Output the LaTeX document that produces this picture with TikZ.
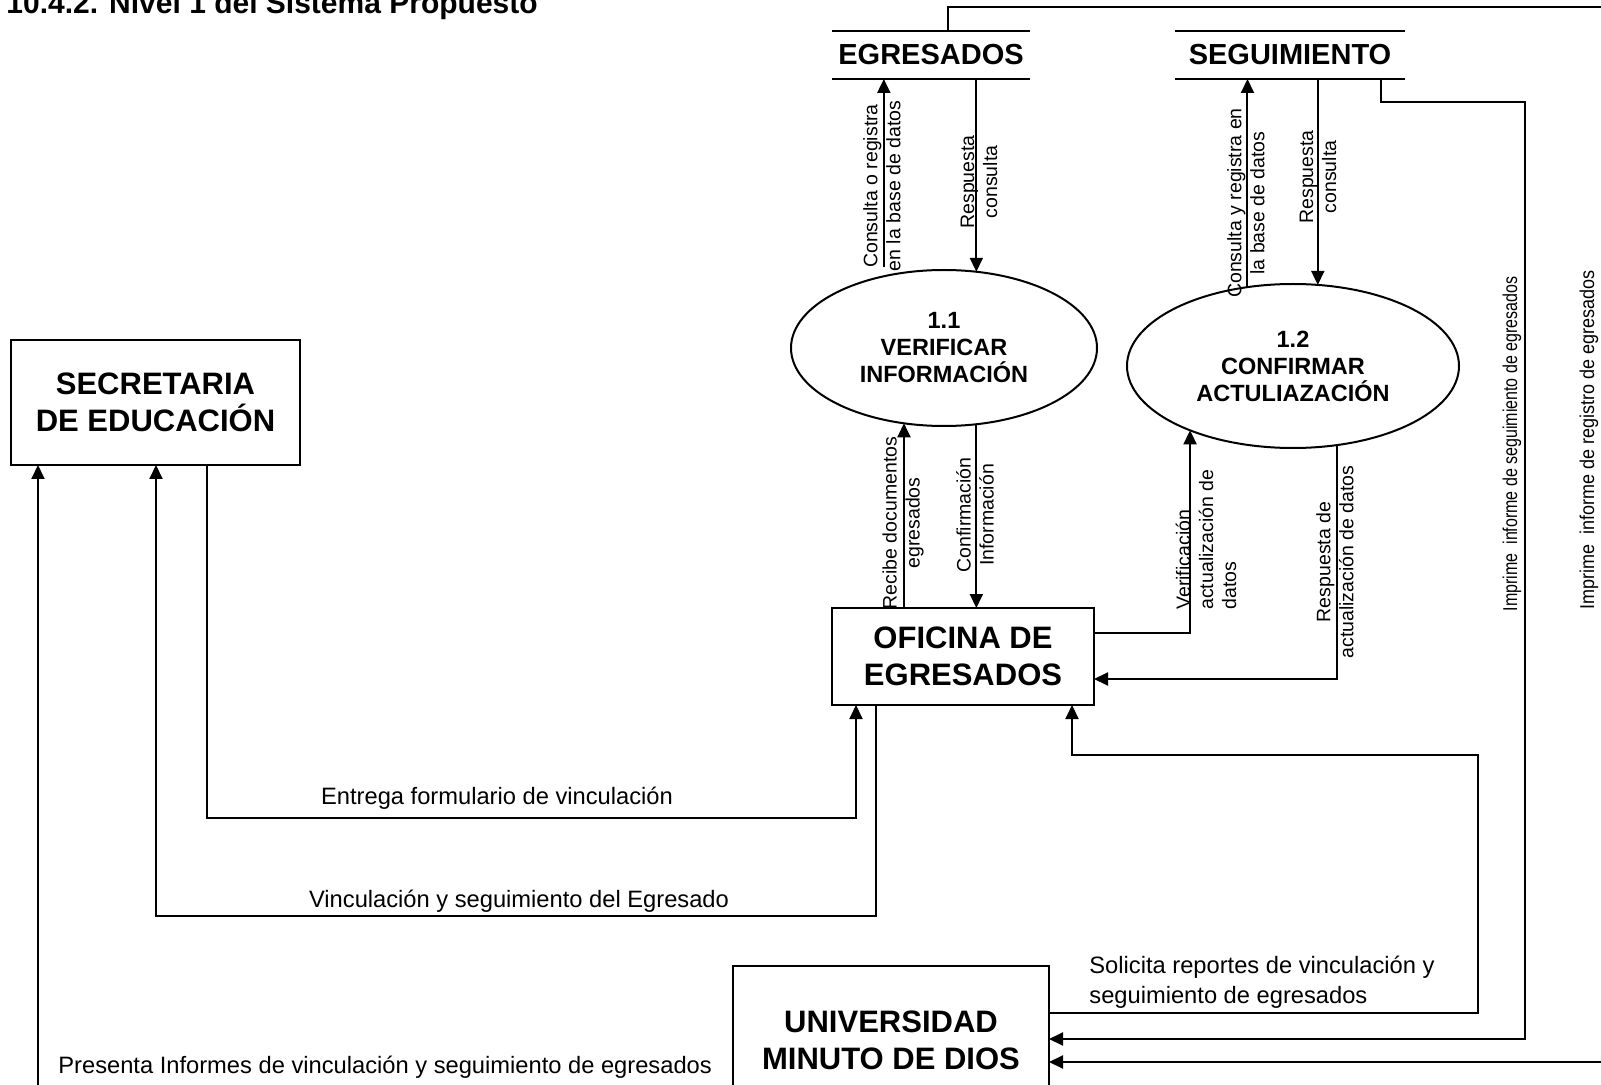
\documentclass[tikz,border=0pt]{standalone}
\usepackage{fontspec}
\setmainfont{Liberation Sans}
\usetikzlibrary{shapes.geometric,arrows.meta,calc}
\begin{document}
\begin{tikzpicture}[x=0.5pt,y=-0.5pt,
  ln/.style={line width=1pt},
  arr/.style={line width=1pt,-{Triangle[length=7pt,width=6.5pt]}},
  box/.style={draw,line width=1pt,align=center,inner sep=0pt,outer sep=0pt,
    font=\bfseries\fontsize{15.5}{18.5}\selectfont},
  store/.style={inner sep=0pt,outer sep=0pt,font=\bfseries\fontsize{14.5}{17}\selectfont},
  proc/.style={draw,ellipse,line width=1pt,inner sep=0pt,outer sep=0pt,align=center,
    font=\bfseries\fontsize{11.75}{13.5}\selectfont},
  hlab/.style={inner sep=0pt,font=\fontsize{11.85}{15}\selectfont},
  vlab/.style={inner sep=0pt,rotate=90,align=center,font=\fontsize{9.75}{11.5}\selectfont},
  rlab/.style={inner sep=0pt,rotate=90,font=\fontsize{10}{11}\selectfont}]
\useasboundingbox (0,0) rectangle (1601,1085);
\clip (0,0) rectangle (1601,1085);

% title
\node[anchor=base west,inner sep=0pt,font=\bfseries\fontsize{15}{18}\selectfont] (title) at (6,14) {10.4.2. Nivel 1 del Sistema Propuesto};

% external entities
\node[box,minimum width=144.5pt,minimum height=62.5pt] (sec) at (155.5,402.5) {SECRETARIA\\DE EDUCACIÓN};
\node[box,minimum width=131pt,minimum height=48.5pt] (of) at (963,656.5) {OFICINA DE\\EGRESADOS};
\node[box,minimum width=158pt,minimum height=74pt] (univ) at (891,1040) {UNIVERSIDAD\\MINUTO DE DIOS};

% data stores
\node[store,minimum width=99pt,minimum height=24pt] (eg) at (931,55) {EGRESADOS};
\node[store,minimum width=115pt,minimum height=24pt] (seg) at (1290,55) {SEGUIMIENTO};
\draw[ln] (eg.north west) -- (eg.north east);
\draw[ln] (eg.south west) -- (eg.south east);
\draw[ln] (seg.north west) -- (seg.north east);
\draw[ln] (seg.south west) -- (seg.south east);

% processes
\node[proc,minimum width=153pt,minimum height=78pt] (p11) at (944,348) {1.1\\VERIFICAR\\INFORMACIÓN};
\node[proc,minimum width=166pt,minimum height=82pt] (p12) at (1293,366) {1.2\\CONFIRMAR\\ACTULIAZACIÓN};

% stores <-> processes
\draw[arr,shorten <=4.5pt] (p11.130) -- (p11.130 |- eg.south);
\draw[arr] (eg.south -| p11.67) -- (p11.67);
\draw[arr] (p12.120) -- (p12.120 |- seg.south);
\draw[arr] (seg.south -| p12.73) -- (p12.73);
\node[vlab] (l1) at (882,186) {Consulta o registra\\en la base de datos};
\node[vlab] (l2) at (979,182) {Respuesta\\consulta};
\node[vlab] (l3) at (1246,203) {Consulta y registra en\\la base de datos};
\node[vlab] (l4) at (1318,177) {Respuesta\\consulta};

% processes <-> oficina
\draw[arr] (p11.242 |- of.north) -- (p11.242);
\draw[arr] (p11.293) -- (p11.293 |- of.north);
\draw[arr] (of.east |- 0,633) -| (p12.212);
\draw[arr] (p12.299) |- (of.east |- 0,679);
\node[vlab] (l5) at (903,523) {Recibe documentos\\egresados};
\node[vlab] (l6) at (975,515) {Confirmación\\Información};
\node[vlab,align=left,anchor=west] (l7) at (1206,610) {Verificación\\actualización de\\datos};
\node[vlab] (l8) at (1335,562) {Respuesta de\\actualización de datos};

% secretaria <-> oficina
\draw[arr] (sec.south -| 207,0) |- (856,818) -- (of.south -| 856,0);
\node[hlab] (l9) at (497,798) {Entrega formulario de vinculación};
\draw[arr] (of.south -| 876,0) |- (156,916) -- (sec.south -| 156,0);
\node[hlab] (l10) at (519,901) {Vinculación y seguimiento del Egresado};

% universidad -> secretaria
\draw[arr] (univ.south) |- (38,1130) -- (sec.south -| 38,0);
\node[hlab,anchor=west] (l11) at (58,1067) {Presenta Informes de vinculación y seguimiento de egresados};

% universidad -> oficina
\draw[arr] (univ.east |- 0,1013) -| (1478,755) -| (of.south -| 1072,0);
\node[hlab,anchor=west,align=left] (l12) at (1089,982) {Solicita reportes de vinculación y\\seguimiento de egresados};

% seguimiento -> universidad
\draw[arr] (seg.south -| 1381,0) |- (1525,102) |- (univ.east |- 0,1039);
\node[rlab] (l13) at (1512,444) {\scalebox{0.8}[1]{Imprime~~informe de seguimiento de egresados}};

% egresados -> universidad
\draw[arr] (eg.north -| 948,0) |- (1620,7) |- (univ.east |- 0,1062);
\node[rlab] (l14) at (1589,440) {\scalebox{0.9}[1]{Imprime~~informe de registro de egresados}};
\end{tikzpicture}
\end{document}
